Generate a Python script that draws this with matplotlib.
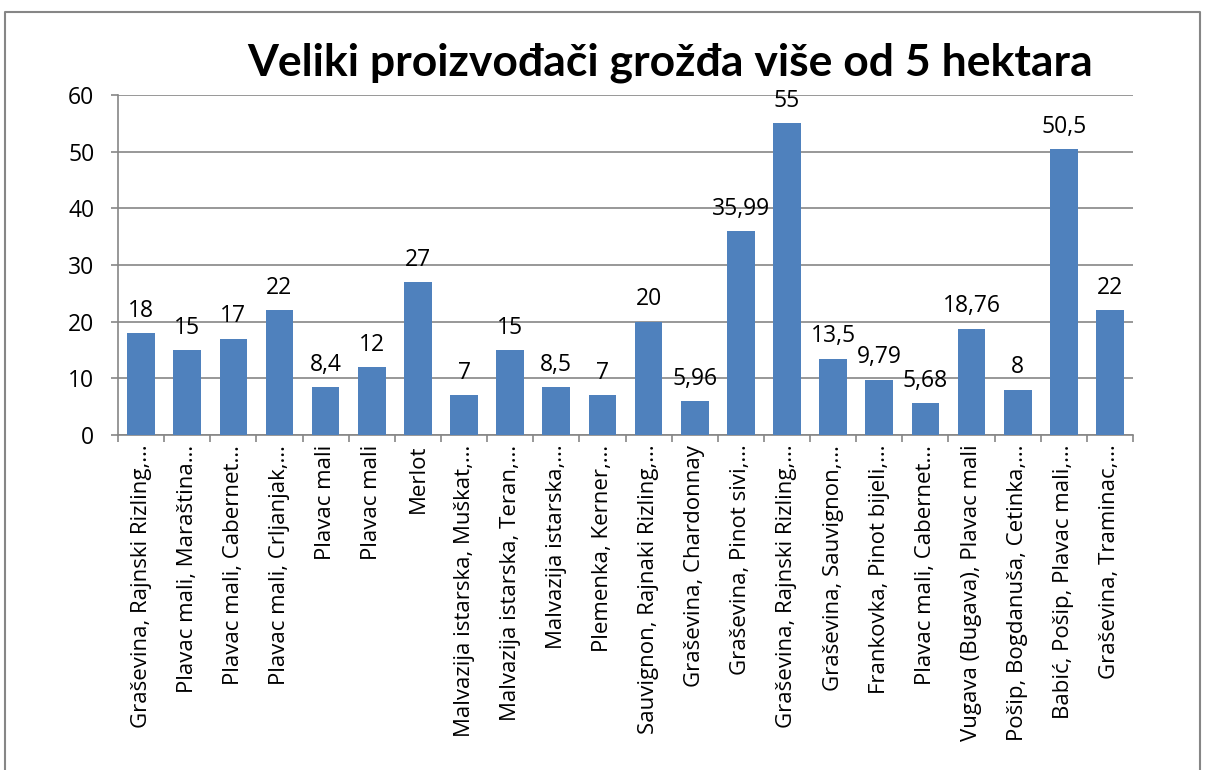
import matplotlib
matplotlib.use("Agg")
from matplotlib import pyplot as plt
from matplotlib.lines import Line2D
import numpy as np

labels = [
    "Graševina, Rajnski Rizling,…",
    "Plavac mali, Maraština…",
    "Plavac mali, Cabernet…",
    "Plavac mali, Crljanjak,…",
    "Plavac mali",
    "Plavac mali",
    "Merlot",
    "Malvazija istarska, Muškat,…",
    "Malvazija istarska, Teran,…",
    "Malvazija istarska,…",
    "Plemenka, Kerner,…",
    "Sauvignon, Rajnaki Rizling,…",
    "Graševina, Chardonnay",
    "Graševina, Pinot sivi,…",
    "Graševina, Rajnski Rizling,…",
    "Graševina, Sauvignon,…",
    "Frankovka, Pinot bijeli,…",
    "Plavac mali, Cabernet…",
    "Vugava (Bugava), Plavac mali",
    "Pošip, Bogdanuša, Cetinka,…",
    "Babić, Pošip, Plavac mali,…",
    "Graševina, Traminac,…",
]
values = [18, 15, 17, 22, 8.4, 12, 27, 7, 15, 8.5, 7, 20, 5.96, 35.99,
          55, 13.5, 9.79, 5.68, 18.76, 8, 50.5, 22]
yticks = [0, 10, 20, 30, 40, 50, 60]

plt.rcParams['font.family'] = ['Open Sans', 'DejaVu Sans']
grey = '#868686'
blue = '#4F81BD'

fig = plt.figure(figsize=(12.06, 7.7), dpi=100)
ax = fig.add_axes([118 / 1206, 1 - 435 / 770, (1133 - 118) / 1206, 340 / 770])

x = np.arange(len(values))
ax.bar(x, values, width=0.6, color=blue, zorder=3)
for xi, v in zip(x, values):
    ax.text(xi, v + 1.8, f"{v:g}".replace('.', ','), ha='center', va='bottom',
            fontsize=16.5, zorder=4)

ax.set_xlim(-0.5, len(values) - 0.5)
ax.set_ylim(0, 60)
ax.set_yticks(yticks)
ax.set_yticklabels([str(t) for t in yticks], fontsize=16.5)
ax.yaxis.grid(True, color=grey, linewidth=1.2, zorder=0)
ax.set_xticks(x)
ax.set_xticklabels(labels, rotation=90, fontsize=16, va='top', ha='center')
ax.set_xticks(np.arange(-0.5, len(values)), minor=True)
ax.tick_params(axis='x', which='major', length=0, pad=7)
ax.tick_params(axis='x', which='minor', length=5, color=grey, width=1.2)
ax.tick_params(axis='y', length=5, color=grey, width=1.2, pad=12)
for s in ['top', 'right']:
    ax.spines[s].set_visible(False)
for s in ['left', 'bottom']:
    ax.spines[s].set_color(grey)
    ax.spines[s].set_linewidth(1.2)

fig.text(0.556, 1 - 63 / 770, "Veliki proizvođači grožđa više od 5 hektara",
         ha='center', va='center', fontsize=32, fontweight='bold',
         family=['Lato', 'DejaVu Sans'])

# outer chart border
fx0, fx1, fy1 = 5 / 1206, 1200 / 1206, 1 - 12 / 770
fig.add_artist(Line2D([fx0, fx0, fx1, fx1], [0, fy1, fy1, 0],
                      transform=fig.transFigure, color=grey, linewidth=1.5))

fig.savefig("out.png", dpi=100)
